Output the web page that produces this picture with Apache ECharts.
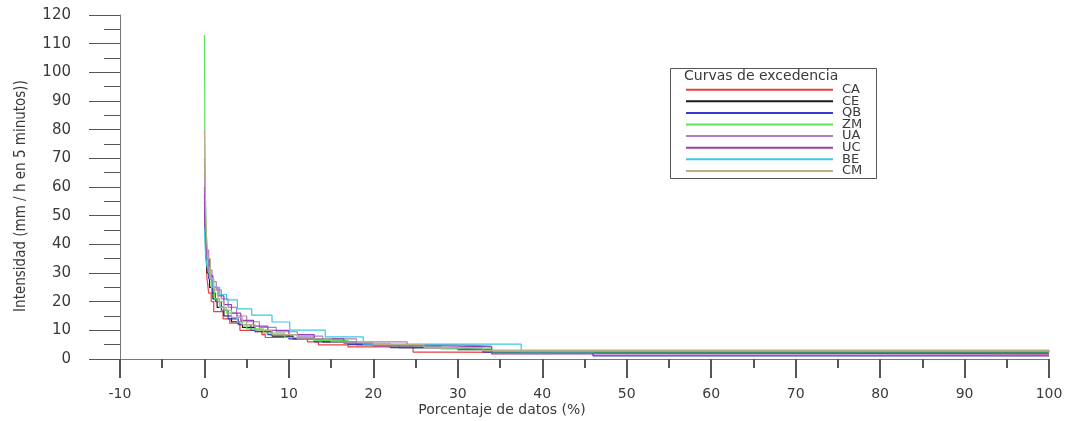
<!DOCTYPE html>
<html>
<head>
<meta charset="utf-8">
<script src="https://cdn.jsdelivr.net/npm/echarts@6/dist/echarts.min.js"></script>
<style>
html,body{margin:0;padding:0;background:#fff;}
#chart{width:1070px;height:421px;}
</style>
</head>
<body>
<div id="chart"></div>
<script>
// ---- data (percent of data, intensity) ----
const seriesNames = ['CA','CE','QB','ZM','UA','UC','BE','CM'];
const CA = [[0,70],[0.15,40],[0.3,28],[0.5,23],[0.8,20],[1.1,16.5],[2.2,14],[3.0,12.5],[4.2,10],[6.8,8.5],[7.2,7.5],[12.2,6],[13.5,4.9],[17,4.2],[24.7,2.4],[28.7,1.8],[100,1.8]];
const CE = [[0,57],[0.15,40],[0.3,30],[0.6,25],[1.0,21],[1.5,18],[2.3,15],[3.2,13],[4.5,11],[6,9.5],[8,8],[10.5,7],[14,6],[18,5],[23,4],[30,3.3],[34,2.2],[100,2.2]];
const QB = [[0,55],[0.1,45],[0.25,35],[0.5,28],[0.9,23],[1.3,20],[2,17],[2.8,14],[4,12],[5.5,10],[7.5,8.5],[10,7],[13,6],[17,5],[22,4],[29,3.4],[33,2.4],[46,1.1],[100,1.1]];
const ZM = [[0,113],[0.05,75],[0.15,50],[0.3,38],[0.5,30],[0.8,25],[1.2,21],[1.8,18],[2.6,16],[3.9,13],[5,10.5],[7,9],[9.5,7.5],[13,6.5],[17,5.5],[22,4.5],[28,3.5],[34,2.5],[100,2.5]];
const UA = [[0,65],[0.1,48],[0.25,38],[0.5,31],[0.9,27],[1.4,24],[2.0,21],[2.8,18],[3.8,15],[5,13],[6.5,11],[8.5,9.5],[11,8],[14,7],[18,6],[24,5],[29.5,4.5],[34,3],[100,2.4]];
const UC = [[0,60],[0.1,45],[0.3,35],[0.6,29],[1,25],[1.6,22],[2.3,19],[3.2,16],[4.3,13.5],[5.8,11.5],[7.5,10],[10,8.5],[13,7],[16.5,5.5],[20,4.6],[28.7,4.2],[34,1.8],[100,1.8]];
const BE = [[0,45],[0.1,38],[0.3,32],[0.6,28],[1,25],[1.8,22.5],[2.6,20.6],[3.9,17.5],[5.6,15.3],[8,12.9],[10.1,10.1],[14.3,7.7],[18.8,5.2],[37.5,2.6],[100,2.6]];
const CM = [[0,80],[0.08,60],[0.2,45],[0.4,35],[0.7,28],[1.1,24],[1.6,20],[2.3,17],[3.2,14.5],[4.5,12],[6,10],[8,8.5],[11,7],[15,6],[20,5],[26,4],[33,3],[100,2.2]];
const seriesData = [CA, CE, QB, ZM, UA, UC, BE, CM];
const seriesColors = ['#e8403a','#1a1a1a','#3a3ac8','#5ee05e','#b07cc8','#9b3fb8','#3cc8e0','#b8b088'];

const xTicks = {min:-10, max:100, interval:10};
const yTicks = {min:0, max:120, interval:10};
const legendTitle = 'Curvas de excedencia';
const xName = 'Porcentaje de datos (%)';
const yName = 'Intensidad (mm / h en 5 minutos))';

const chart = echarts.init(document.getElementById('chart'));
const labelFont = 'DejaVu Sans';
const txtColor = '#3a3a3a';

chart.setOption({
  animation:false,
  backgroundColor:'#fff',
  grid:{left:120, right:21, top:15, bottom:62, containLabel:false},
  xAxis:{
    type:'value', min:xTicks.min, max:xTicks.max, interval:xTicks.interval,
    axisLine:{show:true, onZero:false, lineStyle:{color:'#777', width:1}},
    axisTick:{show:true, inside:false, length:19, lineStyle:{color:'#555', width:2}},
    minorTick:{show:true, splitNumber:2, length:9, lineStyle:{color:'#555', width:2}},
    splitLine:{show:false},
    axisLabel:{margin:28, fontFamily:labelFont, fontSize:14, color:txtColor}
  },
  yAxis:{
    type:'value', min:yTicks.min, max:yTicks.max, interval:yTicks.interval,
    axisLine:{show:true, onZero:false, lineStyle:{color:'#777', width:1}},
    axisTick:{show:true, inside:false, length:31, lineStyle:{color:'#555', width:1}},
    minorTick:{show:true, splitNumber:2, length:16, lineStyle:{color:'#555', width:1}},
    splitLine:{show:false},
    axisLabel:{margin:49, fontFamily:labelFont, fontSize:15, color:txtColor}
  },
  legend:{
    orient:'vertical', left:686, top:83.2, padding:0,
    itemWidth:147, itemHeight:2, itemGap:-1.4, icon:'rect',
    data:seriesNames,
    textStyle:{fontFamily:labelFont, fontSize:13, color:txtColor, lineHeight:11.6, padding:[0,0,0,4]}
  },
  graphic:[
    {type:'rect', shape:{x:670.5, y:68.5, width:206, height:110}, style:{fill:'none', stroke:'#555', lineWidth:1}, z:0},
    {type:'text', x:684, y:76, style:{text:legendTitle, font:'14px "DejaVu Sans"', fill:txtColor, textAlign:'left', textVerticalAlign:'middle'}},
    {type:'text', x:502, y:410, style:{text:xName, font:'14px "DejaVu Sans"', fill:txtColor, textAlign:'center', textVerticalAlign:'middle'}},
    {type:'text', x:21, y:196, rotation:Math.PI/2, style:{text:yName, font:'15px "Liberation Sans Narrow", "DejaVu Sans Condensed", sans-serif', fill:txtColor, textAlign:'center', textVerticalAlign:'middle'}}
  ],
  series: seriesNames.map((n,i)=>({
    name:n, type:'line', step:'end', data:seriesData[i], symbol:'none',
    lineStyle:{color:seriesColors[i], width:1.2}, itemStyle:{color:seriesColors[i]}
  }))
});
</script>
</body>
</html>
